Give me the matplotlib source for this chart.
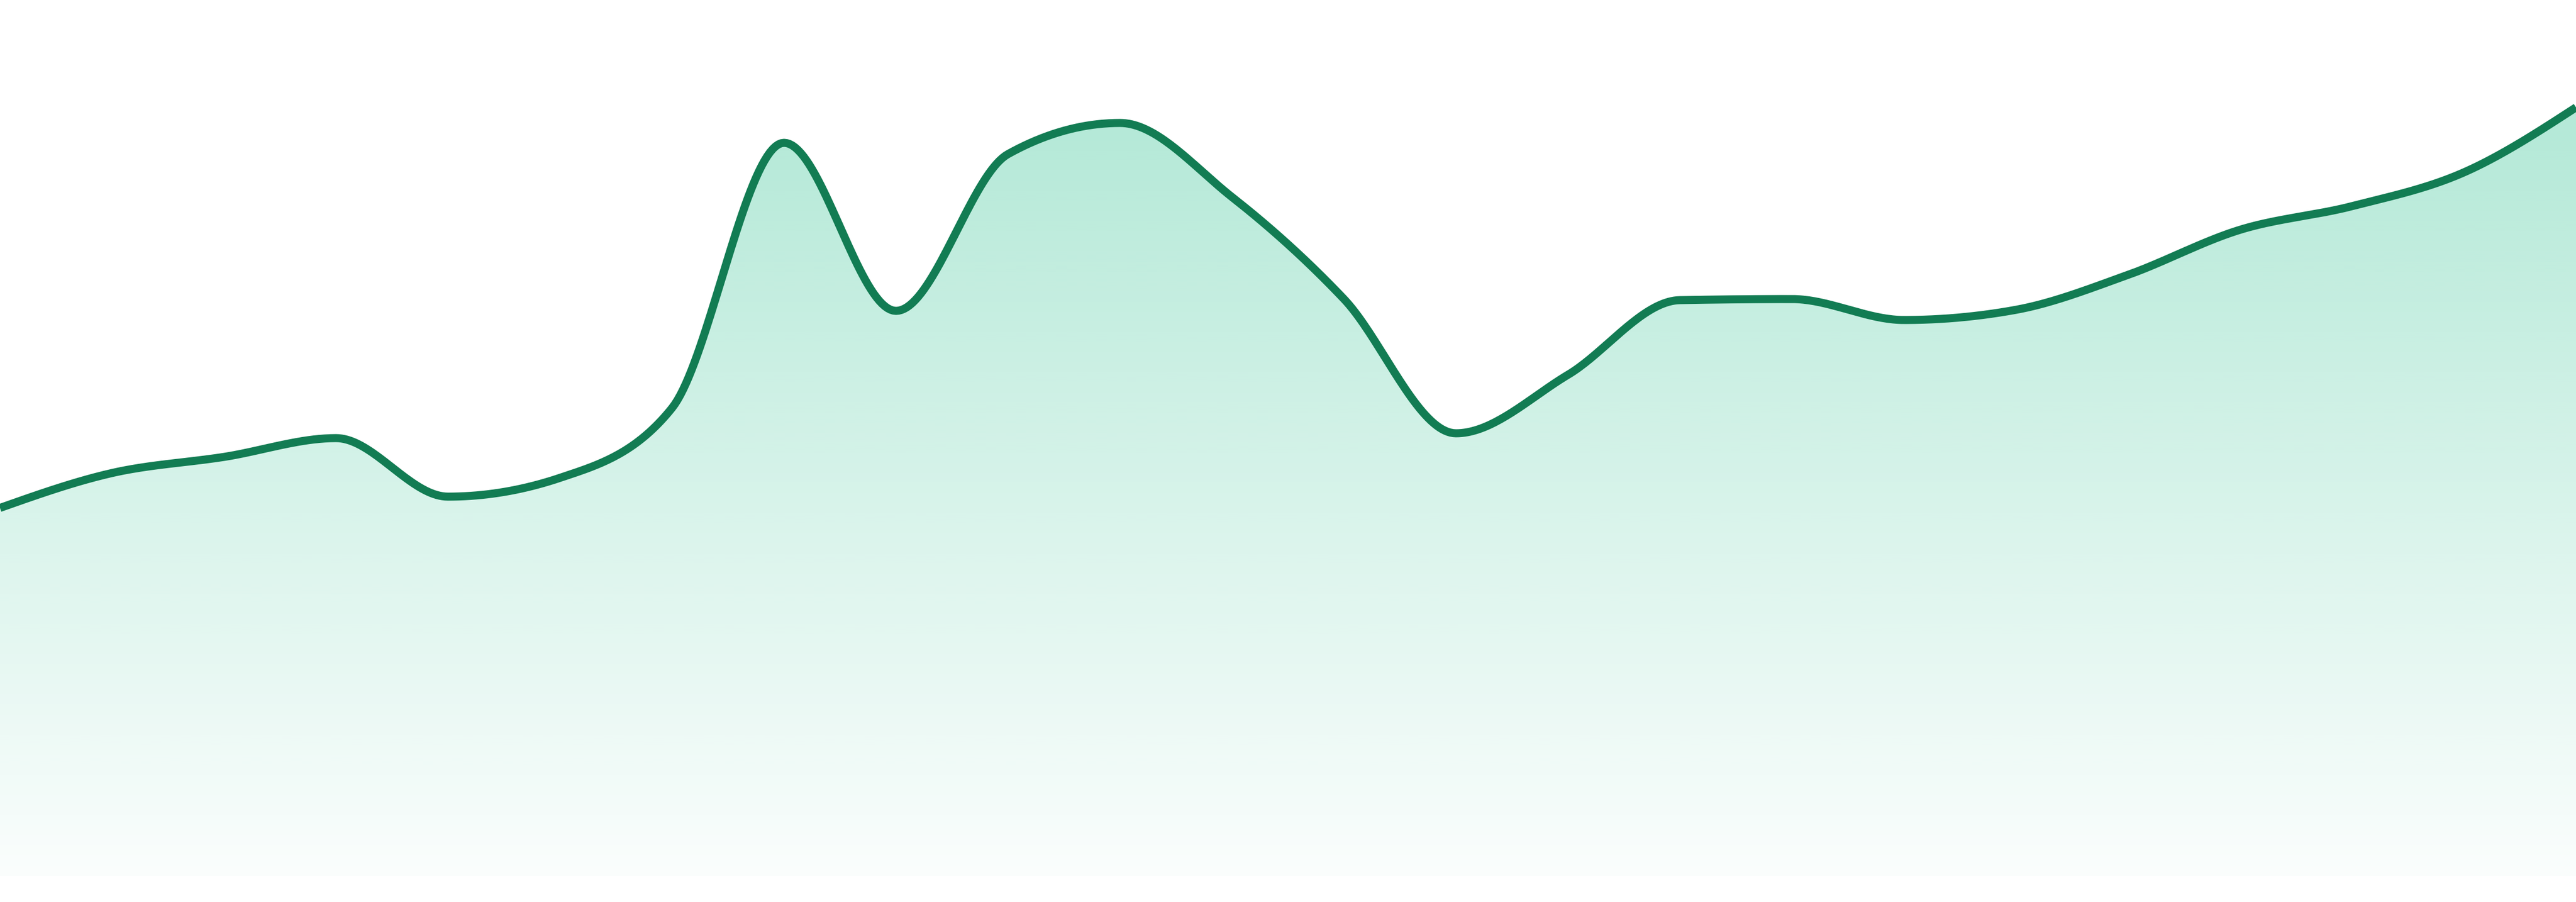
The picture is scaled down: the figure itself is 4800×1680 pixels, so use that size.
import numpy as np
import matplotlib
matplotlib.use("Agg")
import matplotlib.pyplot as plt
from matplotlib.colors import to_rgb

# 24 evenly spaced samples
steps = list(range(24))
values = [68.6, 75.1, 78.1, 81.6, 70.7, 74.2, 87.2, 136.6, 105.3, 134.5,
          140.3, 126.5, 107.5, 82.5, 93.4, 107.3, 107.5, 103.6, 105.5, 112.0,
          120.4, 124.8, 131.1, 143.2]

line_color = "#127c53"
fill_color = "#10b981"


def monotone_x(x, y, n=40):
    # same idea as d3.curveMonotoneX (Steffen)
    x = np.asarray(x, float)
    y = np.asarray(y, float)
    h = np.diff(x)
    s = np.diff(y) / h
    t = np.zeros_like(y)
    for i in range(1, len(y) - 1):
        p = (s[i - 1] * h[i] + s[i] * h[i - 1]) / (h[i - 1] + h[i])
        t[i] = (np.sign(s[i - 1]) + np.sign(s[i])) * min(abs(s[i - 1]), abs(s[i]), 0.5 * abs(p))
    t[0] = (3 * s[0] - t[1]) / 2
    t[-1] = (3 * s[-1] - t[-2]) / 2
    xs, ys = [], []
    for i in range(len(x) - 1):
        u = np.linspace(0, 1, n, endpoint=False)
        h00 = 2 * u**3 - 3 * u**2 + 1
        h10 = u**3 - 2 * u**2 + u
        h01 = -2 * u**3 + 3 * u**2
        h11 = u**3 - u**2
        xs.append(x[i] + u * h[i])
        ys.append(h00 * y[i] + h10 * h[i] * t[i] + h01 * y[i + 1] + h11 * h[i] * t[i + 1])
    xs.append([x[-1]])
    ys.append([y[-1]])
    return np.concatenate(xs), np.concatenate(ys)


fig = plt.figure(figsize=(16, 5.6), dpi=300)
ax = fig.add_axes([0, 0, 1, 1])
ymin, ymax = -4.8, 163.2
ax.set_xlim(steps[0], steps[-1])
ax.set_ylim(ymin, ymax)
ax.axis("off")

cx, cy = monotone_x(steps, values)

# vertical gradient under the curve
r, g, b = to_rgb(fill_color)
grad = np.zeros((256, 1, 4))
grad[:, 0, 0], grad[:, 0, 1], grad[:, 0, 2] = r, g, b
grad[:, 0, 3] = np.linspace(0.02, 0.36, 256)
img = ax.imshow(grad, extent=[steps[0], steps[-1], 0, ymax], origin="lower",
                aspect="auto", interpolation="bilinear", zorder=1)
poly = ax.fill_between(cx, 0, cy, color="none", lw=0)
clip = poly.get_paths()[0]
img.set_clip_path(clip, transform=ax.transData)

ax.plot(cx, cy, color=line_color, lw=3.6, solid_capstyle="butt", zorder=3)

fig.savefig("out.png", dpi=300, facecolor="white")
